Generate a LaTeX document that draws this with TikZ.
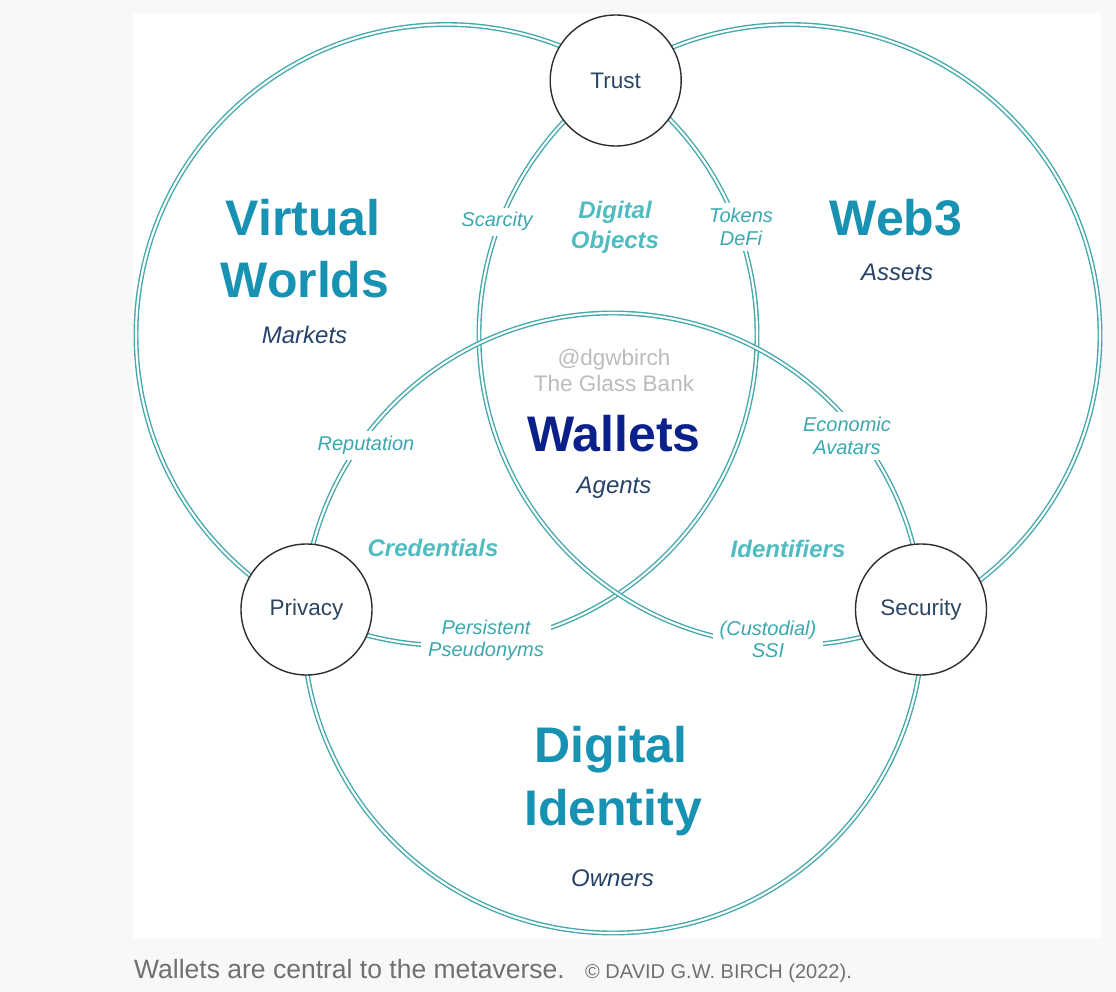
\documentclass[tikz,border=0pt]{standalone}
\usepackage{fontspec}
\setmainfont{Liberation Sans}
\usepackage{tikz}
\definecolor{pagebg}{RGB}{248,248,248}
\definecolor{ringcol}{RGB}{68,168,172}
\definecolor{titlecol}{RGB}{24,146,178}
\definecolor{zonecol}{RGB}{80,188,192}
\definecolor{edgecol}{RGB}{58,168,174}
\definecolor{rolecol}{RGB}{38,66,104}
\definecolor{walletcol}{RGB}{12,32,140}
\definecolor{markcol}{RGB}{188,188,188}
\definecolor{hubtext}{RGB}{44,70,98}
\definecolor{hubline}{RGB}{45,45,50}
\definecolor{captioncol}{RGB}{112,112,112}
\tikzset{
ring/.style={draw=ringcol,line width=1.4pt,double=white,double distance=2.1pt},
hub/.style={circle,draw=hubline,line width=1.4pt,fill=white,minimum size=131pt,inner sep=0pt,text=hubtext,font=\fontsize{22.5}{27}\selectfont},
title/.style={anchor=base,text=titlecol,font=\bfseries\fontsize{50}{60}\selectfont},
role/.style={anchor=base,text=rolecol,font=\itshape\fontsize{24}{29}\selectfont},
zone/.style={text=zonecol,font=\bfseries\itshape\fontsize{24}{30}\selectfont,align=center},
edge/.style={fill=white,text=edgecol,font=\itshape\fontsize{20}{23}\selectfont,align=center,inner xsep=7pt,inner ysep=5pt},
watermark/.style={anchor=base,text=markcol,font=\fontsize{22.5}{27}\selectfont}
}
\begin{document}
\begin{tikzpicture}[x=1pt,y=-1pt]
\useasboundingbox[fill=pagebg](0,0)rectangle(1116,992);
\fill[white](133,13)rectangle(1101,938);
% the three worlds
\draw[ring](446.5,335)circle[radius=310.5pt];
\draw[ring](789.5,335)circle[radius=310.5pt];
\draw[ring](613,623)circle[radius=310pt];
% where they meet
\node[hub](trust)at(615.7,80.5){Trust};
\node[hub](privacy)at(306.5,609.5){Privacy};
\node[hub](security)at(921,609.5){Security};
\node[title](virtual)at(303,235.5){Virtual};
\node[title](worlds)at(305,298){Worlds};
\node[role](markets)at(304.5,343){Markets};
\node[title](web3)at(896,236){Web3};
\node[role](assets)at(897,280){Assets};
\node[title](digital)at(611,762.7){Digital};
\node[title](identity)at(613,825){Identity};
\node[role](owners)at(612.5,886.7){Owners};
\node[watermark](handle)at(614,365){@dgwbirch};
\node[watermark](bank)at(614,391.7){The Glass Bank};
\node[title,text=walletcol](wallets)at(614,451.7){Wallets};
\node[role](agents)at(614,493.3){Agents};
\node[zone](objects)at(615,226.8){Digital\\Objects};
\node[zone,anchor=base](credentials)at(433,556.7){Credentials};
\node[zone,anchor=base](identifiers)at(788,557){Identifiers};
% labels sitting on the rings
\node[edge,anchor=base](scarcity)at(497,227){Scarcity};
\node[edge,font=\itshape\fontsize{20}{23.5}\selectfont](tokens)at(741,227){Tokens\\DeFi};
\node[edge,anchor=base](reputation)at(366,450.7){Reputation};
\node[edge](avatars)at(847,436){Economic\\Avatars};
\node[edge,font=\itshape\fontsize{20}{22}\selectfont](pseudonyms)at(486,640){Persistent\\Pseudonyms};
\node[edge,font=\itshape\fontsize{20}{22}\selectfont](ssi)at(768,639){(Custodial)\\SSI};
\node[anchor=base west,inner sep=0pt,text=captioncol,font=\fontsize{26.5}{30}\selectfont](caption)at(134,978){Wallets are central to the metaverse.};
\node[anchor=base west,inner sep=0pt,text=captioncol,font=\fontsize{20}{24}\selectfont](copyright)at(585,978){© DAVID G.W. BIRCH (2022).};
\end{tikzpicture}
\end{document}
